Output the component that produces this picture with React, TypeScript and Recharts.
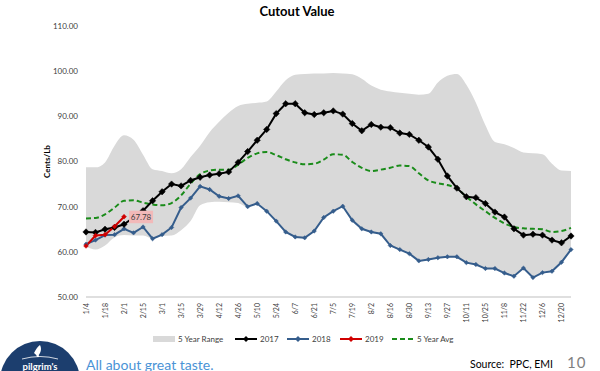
import React from "react";
import { ComposedChart, Area, Line, XAxis, YAxis, LabelList } from "recharts";

const weeks = [
  "1/4", "1/11", "1/18", "1/25", "2/1", "2/8", "2/15", "2/22", "3/1", "3/8", "3/15", "3/22", "3/29",
  "4/5", "4/12", "4/19", "4/26", "5/3", "5/10", "5/17", "5/24", "5/31", "6/7", "6/14", "6/21", "6/28",
  "7/5", "7/12", "7/19", "7/26", "8/2", "8/9", "8/16", "8/23", "8/30", "9/6", "9/13", "9/20", "9/27",
  "10/4", "10/11", "10/18", "10/25", "11/1", "11/8", "11/15", "11/22", "11/29", "12/6", "12/13", "12/20", "12/27",
];

const y2017 = [
  64.4, 64.3, 65.0, 65.4, 66.1, 67.6, 69.1, 71.3, 73.3, 75.0, 74.6, 75.8, 76.5,
  77.0, 77.3, 77.7, 79.8, 82.2, 84.7, 87.1, 90.6, 92.8, 92.8, 90.8, 90.4, 90.8,
  91.2, 90.5, 88.4, 86.8, 88.2, 87.6, 87.5, 86.3, 86.0, 84.7, 83.2, 80.5, 76.8,
  74.1, 72.2, 72.0, 70.7, 68.8, 67.7, 65.1, 63.7, 63.9, 63.7, 62.6, 62.0, 63.5,
];

const y2018 = [
  61.7, 62.6, 63.7, 63.8, 65.1, 64.2, 65.5, 62.9, 63.8, 65.4, 69.8, 71.9, 74.5,
  73.8, 72.3, 71.8, 72.4, 70.0, 70.7, 69.0, 66.8, 64.4, 63.3, 63.1, 64.6, 67.6,
  69.0, 70.1, 67.0, 65.1, 64.4, 64.0, 61.4, 60.5, 59.6, 58.0, 58.3, 58.7, 58.9,
  58.9, 57.6, 57.2, 56.3, 56.3, 55.3, 54.6, 56.4, 54.3, 55.4, 55.7, 57.7, 60.5,
];

const y2019 = [61.3, 63.6, 63.8, 65.6, 67.78];

const avg5 = [
  67.4, 67.5, 68.3, 69.8, 71.3, 71.4, 70.9, 70.5, 70.3, 70.8, 72.5, 75.1, 77.2,
  78.0, 78.2, 78.2, 79.3, 80.8, 81.8, 82.1, 81.4, 80.5, 79.8, 79.4, 79.5, 80.4,
  81.6, 81.5, 79.9, 78.6, 77.9, 78.2, 78.6, 79.1, 79.0, 77.4, 75.8, 75.2, 74.8,
  74.0, 72.2, 70.5, 69.0, 67.5, 66.3, 65.5, 65.2, 65.1, 65.0, 64.4, 64.6, 65.3,
];

const rangeLow = [
  61.1, 60.5, 61.4, 63.2, 63.7, 63.6, 63.6, 62.9, 63.5, 63.6, 64.8, 66.8, 70.3,
  71.0, 71.1, 71.0, 70.8, 69.9, 70.7, 69.0, 66.8, 64.4, 63.3, 63.1, 64.6, 67.6,
  69.0, 70.1, 67.0, 65.1, 64.4, 64.0, 61.4, 60.5, 59.6, 58.0, 58.3, 58.7, 58.9,
  58.9, 57.6, 57.2, 56.3, 56.3, 55.3, 54.6, 56.4, 54.3, 55.4, 55.7, 57.7, 60.5,
];

const rangeHigh = [
  78.7, 78.7, 79.8, 83.5, 85.8, 84.8, 81.5, 78.3, 77.9, 77.4, 78.3, 81.0, 83.5,
  86.5, 88.8, 90.8, 92.3, 92.8, 93.0, 93.3, 95.5, 98.0, 99.2, 99.4, 99.5, 99.5,
  99.6, 99.5, 99.3, 98.3, 96.8, 95.9, 95.5, 95.2, 95.0, 94.8, 95.0, 97.5, 99.0,
  99.4, 97.0, 93.0, 88.0, 84.3, 83.8, 83.0, 82.0, 81.8, 81.6, 79.5, 78.0, 77.9,
];

const yTicks = [50, 60, 70, 80, 90, 100, 110];

const data = weeks.map((w, i) => ({
  week: w,
  y2017: y2017[i],
  y2018: y2018[i],
  y2019: i < y2019.length ? y2019[i] : null,
  avg: avg5[i],
  range: [rangeLow[i], rangeHigh[i]],
}));

const FONT = "Lato, 'Open Sans', sans-serif";

const makeDiamond = (size: number, color: string) => (props: any) => {
  const { cx, cy, index } = props;
  if (cx == null || cy == null) return <g key={index} />;
  return (
    <path
      key={index}
      d={`M${cx},${cy - size} L${cx + size},${cy} L${cx},${cy + size} L${cx - size},${cy} Z`}
      fill={color}
      stroke={color}
      strokeWidth={0.5}
    />
  );
};

const XTick = (props: any) => {
  const { x, y, payload } = props;
  return (
    <text
      x={x}
      y={y}
      transform={`rotate(-90 ${x} ${y})`}
      textAnchor="end"
      dominantBaseline="central"
      fontSize={7}
      fill="#404040"
      fontFamily={FONT}
    >
      {payload.value}
    </text>
  );
};

const lastLabel = (props: any) => {
  const { x, y, value, index } = props;
  if (index !== y2019.length - 1) return null;
  return (
    <g>
      <rect x={x + 5} y={y - 6} width={24} height={12.5} fill="#f2b9b9" />
      <text x={x + 17} y={y + 0.5} textAnchor="middle" dominantBaseline="central" fontSize={8} fill="#404040" fontFamily={FONT}>
        {Number(value).toFixed(2)}
      </text>
    </g>
  );
};

const legendItems = [
  { name: "5 Year Range", kind: "box", color: "#d9d9d9", x: 153 },
  { name: "2017", kind: "line", color: "#000000", x: 235 },
  { name: "2018", kind: "line", color: "#355d8c", x: 287 },
  { name: "2019", kind: "line", color: "#d00000", x: 340 },
  { name: "5 Year Avg", kind: "dash", color: "#1a8c1a", x: 392 },
];

export default function App() {
  return (
    <div style={{ position: "fixed", left: 0, top: 0, width: 600, height: 371, background: "#fff", overflow: "hidden", fontFamily: FONT }}>
      <ComposedChart
        width={600}
        height={371}
        data={data}
        margin={{ top: 26, right: 29, bottom: 44, left: 26 }}
        style={{ position: "absolute", left: 0, top: 0 }}
      >
        <XAxis
          dataKey="week"
          interval={1}
          tick={<XTick />}
          tickLine={false}
          tickSize={6}
          tickMargin={0}
          height={30}
          axisLine={{ stroke: "#bfbfbf", strokeWidth: 1 }}
        />
        <YAxis
          domain={[50, 110]}
          ticks={yTicks}
          width={60}
          axisLine={false}
          tickLine={false}
          tickFormatter={(v: number) => v.toFixed(2)}
          tick={{ fontSize: 8, fill: "#404040", fontFamily: FONT }}
          label={{
            content: (p: any) => {
              const vb = p.viewBox;
              const cx = 47;
              const cy = vb.y + vb.height / 2;
              return (
                <text x={cx} y={cy} transform={`rotate(-90 ${cx} ${cy})`} textAnchor="middle" dominantBaseline="central" fontSize={8} fontWeight="bold" fill="#000" fontFamily={FONT}>
                  Cents/Lb
                </text>
              );
            },
          }}
        />
        <Area dataKey="range" type="monotone" fill="#d9d9d9" fillOpacity={1} stroke="none" isAnimationActive={false} />
        <Line dataKey="avg" type="monotone" stroke="#1a8c1a" strokeWidth={2} strokeDasharray="5 3" dot={false} isAnimationActive={false} />
        <Line dataKey="y2018" stroke="#355d8c" strokeWidth={2} dot={makeDiamond(2.2, "#355d8c")} isAnimationActive={false} />
        <Line dataKey="y2017" stroke="#000000" strokeWidth={2} dot={makeDiamond(3.2, "#000000")} isAnimationActive={false} />
        <Line dataKey="y2019" stroke="#d00000" strokeWidth={2} dot={makeDiamond(2.4, "#d00000")} isAnimationActive={false}>
          <LabelList dataKey="y2019" content={lastLabel} />
        </Line>
      </ComposedChart>

      <svg width={600} height={371} style={{ position: "absolute", left: 0, top: 0, pointerEvents: "none" }}>
        <text x={297} y={16} textAnchor="middle" fontSize={13} fontWeight="bold" fill="#000" fontFamily={FONT}>
          Cutout Value
        </text>

        {legendItems.map((it) => (
          <g key={it.name}>
            {it.kind === "box" && <rect x={it.x} y={336} width={22} height={6} fill={it.color} />}
            {it.kind === "line" && (
              <g>
                <line x1={it.x} y1={339} x2={it.x + 22} y2={339} stroke={it.color} strokeWidth={2} />
                <path d={`M${it.x + 11},${336} L${it.x + 14},${339} L${it.x + 11},${342} L${it.x + 8},${339} Z`} fill={it.color} />
              </g>
            )}
            {it.kind === "dash" && (
              <line x1={it.x} y1={339} x2={it.x + 22} y2={339} stroke={it.color} strokeWidth={2} strokeDasharray="5 3" />
            )}
            <text x={it.x + 25} y={339} dominantBaseline="central" fontSize={8} fill="#404040" fontFamily={FONT}>
              {it.name}
            </text>
          </g>
        ))}

        <circle cx={40} cy={381} r={40} fill="#1c3e6e" />
        <path d="M34,353 Q37,347 40,345 Q42,349 40,353 Q38,355 39,357 L37,357 Q37,355 34,353 Z" fill="#fff" />
        <path d="M22,359 Q40,354 58,359" stroke="#fff" strokeWidth={0.8} fill="none" />
        <text x={40} y={366} textAnchor="middle" dominantBaseline="central" fontSize={9.5} fontWeight="bold" fill="#fff" fontFamily={FONT}>
          pilgrim's
        </text>

        <text x={86} y={364} dominantBaseline="central" fontSize={14} fill="#4a93d6" fontFamily={FONT}>
          All about great taste.
        </text>
        <text x={470} y={364} dominantBaseline="central" fontSize={10.5} fill="#000" fontFamily={FONT} style={{ whiteSpace: "pre" }}>
          Source:  PPC, EMI
        </text>
        <text x={567} y={362} dominantBaseline="central" fontSize={15} fill="#7f7f7f" fontFamily={FONT} letterSpacing={1}>
          10
        </text>
      </svg>
    </div>
  );
}
